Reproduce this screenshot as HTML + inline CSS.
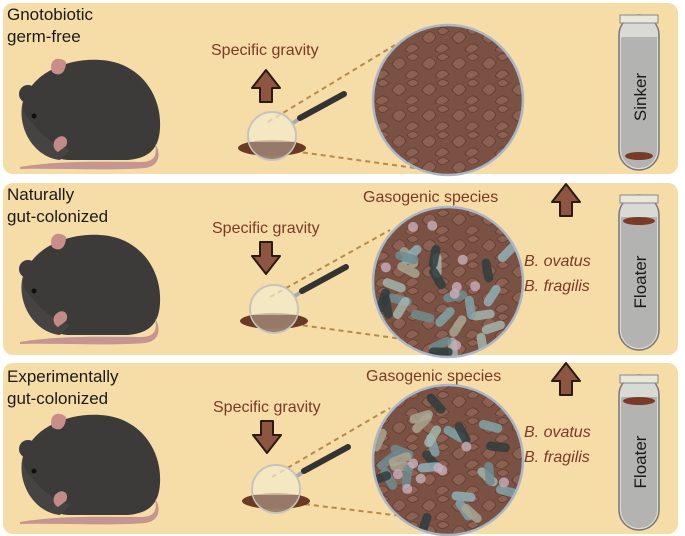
<!DOCTYPE html>
<html><head><meta charset="utf-8"><style>
html,body{margin:0;padding:0;background:#fff}
svg{display:block}
text{font-family:"Liberation Sans",sans-serif}
</style></head><body>
<svg id="s" width="685" height="536" viewBox="0 0 685 536" xmlns="http://www.w3.org/2000/svg">
<defs>
<pattern id="tex" width="30" height="26" patternUnits="userSpaceOnUse">
<rect width="30" height="26" fill="#7a5143"/>
<path d="M2 12 Q10 0 16 11 Q9 23 2 12Z M15 24 Q22 13 29 22 Q21 30 15 24Z M17 5 Q23 -2 29 5 Q22 12 17 5Z" fill="#8c6152" stroke="#5f3d31" stroke-width="0.8"/>
</pattern>
<g id="mouse">
<path d="M42,148 C22,138 16,110 28,92 C38,72 68,58 100,60 C140,62 162,95 160,128 C159,148 150,158 128,160 L70,160 C58,160 50,155 42,148Z" fill="#3c3b3a"/>
<path d="M30,90 C22,100 20,112 30,120 C40,135 55,145 70,150 L60,160 C40,158 25,140 22,120 C20,105 24,95 30,90Z" fill="#454443"/>
<circle cx="28" cy="94" r="9" fill="#3c3b3a"/>
<path d="M52,72 C48,60 58,55 66,62 C66,72 60,78 52,72Z" fill="#c98e8c"/>
<circle cx="34" cy="116" r="2.5" fill="#111"/>
<path d="M55,140 C62,132 70,138 66,146 L58,152 C54,150 52,145 55,140Z" fill="#c48a86"/>
<path d="M20,167 C60,160 110,162 140,162 C152,162 158,158 155,144 C160,150 162,166 145,168 C110,171 60,168 20,169Z" fill="#c49591"/>
</g>
<g id="lens">
<ellipse cx="0" cy="12" rx="34" ry="8" fill="#6b3a25"/>
<circle cx="0" cy="0" r="24" fill="#f4ecd0" fill-opacity="0.7" stroke="#c4c4bc" stroke-width="2"/>
<path d="M-23,6 L23,6 A24,24 0 0 1 -23,6Z" fill="#8e6e60" opacity="0.85"/>
<line x1="21" y1="-13" x2="30" y2="-19" stroke="#aaa" stroke-width="4"/>
<line x1="28" y1="-18" x2="72" y2="-42" stroke="#333" stroke-width="6" stroke-linecap="round"/>
</g>
<g id="tube">
<rect x="0" y="0" width="40" height="155" rx="20" fill="#d9d9d6" stroke="#777" stroke-width="1.5"/>
<rect x="1" y="0" width="38" height="8" fill="#e9e6da" stroke="#888"/>
<path d="M2,22 L38,22 L38,135 A18,18 0 0 1 2,135Z" fill="#b3b3b1"/>
</g>
<path id="up" d="M0,-16 L14,2 L6,2 L6,16 L-6,16 L-6,2 L-14,2Z" fill="#8e5541" stroke="#2a1a14" stroke-width="2" stroke-linejoin="round"/>
<path id="down" d="M0,16 L14,-2 L6,-2 L6,-16 L-6,-16 L-6,-2 L-14,-2Z" fill="#8e5541" stroke="#2a1a14" stroke-width="2" stroke-linejoin="round"/>
<clipPath id="c2"><circle cx="448" cy="282" r="75"/></clipPath>
<clipPath id="c3"><circle cx="448" cy="460" r="75"/></clipPath>
</defs>
<rect x="3" y="3" width="675" height="171" rx="10" fill="#f6dca6"/>
<rect x="3" y="183" width="675" height="172" rx="10" fill="#f6dca6"/>
<rect x="3" y="363" width="675" height="171" rx="10" fill="#f6dca6"/>

<g font-size="17" fill="#1a1a1a">
<text x="7" y="20">Gnotobiotic</text><text x="7" y="42">germ-free</text>
<text x="7" y="200">Naturally</text><text x="7" y="222">gut-colonized</text>
<text x="7" y="382">Experimentally</text><text x="7" y="404">gut-colonized</text>
</g>
<use href="#mouse"/>
<use href="#mouse" transform="translate(0,175)"/>
<use href="#mouse" transform="translate(0,355)"/>

<use href="#up" x="266" y="86"/>
<use href="#down" x="266" y="258"/>
<use href="#down" x="267" y="437"/>
<use href="#up" x="566" y="200"/>
<use href="#up" x="566" y="379"/>

<g stroke="#b58a4a" stroke-width="2" stroke-dasharray="5,4" fill="none">
<line x1="268" y1="122" x2="395" y2="45"/><line x1="285" y1="150" x2="415" y2="168"/>
<line x1="270" y1="297" x2="390" y2="230"/><line x1="285" y1="323" x2="410" y2="340"/>
<line x1="272" y1="477" x2="390" y2="408"/><line x1="287" y1="502" x2="410" y2="517"/>
</g>
<use href="#lens" x="272" y="136"/>
<use href="#lens" x="274" y="309"/>
<use href="#lens" x="276" y="489"/>

<circle cx="448" cy="100" r="75" fill="url(#tex)"/>
<circle cx="448" cy="282" r="75" fill="url(#tex)"/>
<circle cx="448" cy="460" r="75" fill="url(#tex)"/>
<g id="b2" clip-path="url(#c2)"></g>
<g id="b3" clip-path="url(#c3)"></g>
<g fill="none" stroke="#a9b7c6" stroke-width="2.5">
<circle cx="448" cy="100" r="75"/><circle cx="448" cy="282" r="75"/><circle cx="448" cy="460" r="75"/>
</g>

<g font-size="16" fill="#7a3a28">
<text x="211" y="55">Specific gravity</text>
<text x="212" y="233">Specific gravity</text>
<text x="213" y="412">Specific gravity</text>
<text x="363" y="202">Gasogenic species</text>
<text x="366" y="381">Gasogenic species</text>
<g font-style="italic"><text x="524" y="266">B. ovatus</text><text x="524" y="291">B. fragilis</text>
<text x="524" y="437">B. ovatus</text><text x="524" y="462">B. fragilis</text></g>
</g>

<use href="#tube" x="619" y="15"/>
<use href="#tube" x="619" y="195"/>
<use href="#tube" x="619" y="375"/>
<ellipse cx="639" cy="156" rx="14" ry="4" fill="#7a3a28"/>
<ellipse cx="639" cy="221" rx="16" ry="4" fill="#7a3a28"/>
<ellipse cx="639" cy="401" rx="16" ry="4" fill="#7a3a28"/>
<g font-size="17" fill="#1a1a1a">
<text transform="translate(646,97) rotate(-90)" text-anchor="middle">Sinker</text>
<text transform="translate(646,282) rotate(-90)" text-anchor="middle">Floater</text>
<text transform="translate(646,462) rotate(-90)" text-anchor="middle">Floater</text>
</g>
</svg>
<script>
var seed=7;function r(){seed=(seed*9301+49297)%233280;return seed/233280;}
var cols=["#7fa3a8","#a3b5ad","#2f3d3e","#8fb0b8","#a8a692","#6e8c90"];
function fill(id,cx,cy){var g=document.getElementById(id),h="";
for(var i=0;i<26;i++){var a=r()*6.28,d=Math.sqrt(r())*72,x=cx+Math.cos(a)*d,y=cy+Math.sin(a)*d,ang=r()*180,c=cols[Math.floor(r()*cols.length)];
h+='<rect x="'+(x-12)+'" y="'+(y-4.5)+'" width="24" height="9" rx="4.5" fill="'+c+'" opacity="0.85" transform="rotate('+ang+' '+x+' '+y+')"/>';}
for(var j=0;j<8;j++){var a2=r()*6.28,d2=Math.sqrt(r())*70;h+='<circle cx="'+(cx+Math.cos(a2)*d2)+'" cy="'+(cy+Math.sin(a2)*d2)+'" r="5" fill="#c9aebb" opacity="0.8"/>';}
g.innerHTML=h;}
fill("b2",448,282);fill("b3",448,460);
</script>
</body></html>
